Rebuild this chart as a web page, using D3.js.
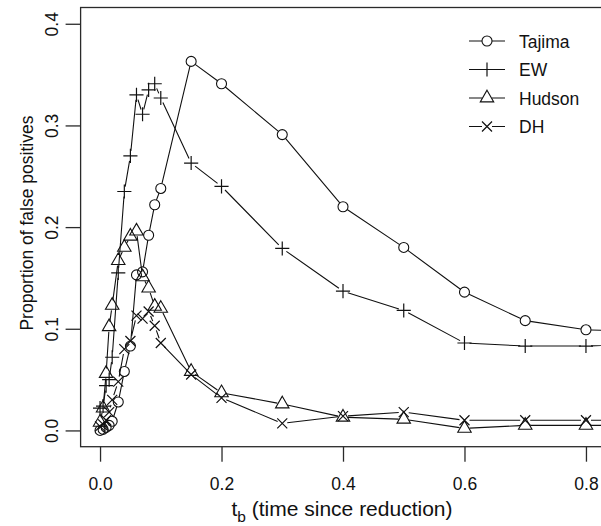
<!DOCTYPE html>
<html>
<head>
<meta charset="utf-8">
<script src="https://cdn.jsdelivr.net/npm/d3@7/dist/d3.min.js"></script>
<style>
  body { margin: 0; background: #fff; }
  text { font-family: "Liberation Sans", Arial, Helvetica, sans-serif; fill: #111; }
</style>
</head>
<body>
<svg id="chart" width="601" height="526"></svg>
<script>
// Time since reduction (t_b) at which each test was evaluated
const tb = [0, 0.005, 0.01, 0.015, 0.02, 0.03, 0.04, 0.05, 0.06, 0.07, 0.08, 0.09, 0.1,
            0.15, 0.2, 0.3, 0.4, 0.5, 0.6, 0.7, 0.8, 0.9];

// Proportion of false positives per test
const tajima = [0.000, 0.001, 0.003, 0.005, 0.009, 0.028, 0.058, 0.083, 0.153, 0.156, 0.192, 0.222, 0.238,
                0.363, 0.341, 0.291, 0.220, 0.180, 0.136, 0.108, 0.099, 0.097];
const ew     = [0.022, 0.024, 0.044, 0.050, 0.072, 0.155, 0.235, 0.270, 0.330, 0.311, 0.335, 0.341, 0.327,
                0.263, 0.240, 0.179, 0.137, 0.118, 0.086, 0.083, 0.083, 0.085];
const hudson = [0.008, 0.022, 0.056, 0.102, 0.123, 0.167, 0.180, 0.191, 0.196, 0.151, 0.140, 0.122, 0.120,
                0.058, 0.037, 0.026, 0.013, 0.011, 0.002, 0.005, 0.005, 0.005];
const dh     = [0.004, 0.006, 0.010, 0.018, 0.030, 0.048, 0.080, 0.088, 0.113, 0.110, 0.117, 0.103, 0.086,
                0.055, 0.032, 0.007, 0.014, 0.018, 0.010, 0.010, 0.010, 0.010];

const seriesNames = ["Tajima", "EW", "Hudson", "DH"];
const seriesShapes = ["circle", "plus", "triangle", "cross"];
const xTicks = [0, 0.2, 0.4, 0.6, 0.8];
const yTicks = [0, 0.1, 0.2, 0.3, 0.4];
const xLimits = [0, 0.8];
const yLimits = [0, 0.4];

const series = seriesNames.map((name, i) => ({
  name,
  shape: seriesShapes[i],
  values: [tajima, ew, hudson, dh][i].map((v, j) => ({ t: tb[j], p: v }))
}));

const svg = d3.select("#chart");
const ink = "#111";
const plot = { left: 80.6, right: 605.4, top: 7.5, bottom: 446.7 };

// Axis limits padded by 4% on each side
const pad = ([a, b]) => [a - 0.04 * (b - a), b + 0.04 * (b - a)];
const x = d3.scaleLinear().domain(pad(xLimits)).range([plot.left, plot.right]);
const y = d3.scaleLinear().domain(pad(yLimits)).range([plot.bottom, plot.top]);

svg.append("defs").append("clipPath").attr("id", "plotclip")
  .append("rect")
  .attr("x", plot.left).attr("y", plot.top)
  .attr("width", plot.right - plot.left).attr("height", plot.bottom - plot.top);

// Marker glyphs (R = circle radius), all hollow
const R = 5;
function marker(g, shape) {
  if (shape === "circle") {
    g.append("circle").attr("r", R).attr("fill", "none").attr("stroke", ink).attr("stroke-width", 1.1);
  } else if (shape === "plus") {
    const h = R * Math.SQRT2;
    g.append("path").attr("d", `M${-h},0H${h}M0,${-h}V${h}`).attr("stroke", ink).attr("stroke-width", 1.2);
  } else if (shape === "triangle") {
    const r0 = 1.5551 * R, xc = 1.3468 * R, yc = 0.7776 * R;
    g.append("path").attr("d", `M0,${-r0}L${xc},${yc}L${-xc},${yc}Z`)
      .attr("fill", "none").attr("stroke", ink).attr("stroke-width", 1.1);
  } else {
    const h = R;
    g.append("path").attr("d", `M${-h},${-h}L${h},${h}M${-h},${h}L${h},${-h}`)
      .attr("stroke", ink).attr("stroke-width", 1.2);
  }
}

// Connecting segments stop short of each point, leaving a gap around the marker
const GAP = R;
function gappedPath(pts) {
  let d = "";
  for (let i = 0; i < pts.length - 1; i++) {
    const [x0, y0] = pts[i], [x1, y1] = pts[i + 1];
    const len = Math.hypot(x1 - x0, y1 - y0);
    if (len <= 2 * GAP) continue;
    const ux = (x1 - x0) / len, uy = (y1 - y0) / len;
    d += `M${x0 + ux * GAP},${y0 + uy * GAP}L${x1 - ux * GAP},${y1 - uy * GAP}`;
  }
  return d;
}

const dataLayer = svg.append("g").attr("clip-path", "url(#plotclip)");
series.forEach(s => {
  const pts = s.values.map(d => [x(d.t), y(d.p)]);
  dataLayer.append("path")
    .attr("d", gappedPath(pts)).attr("fill", "none").attr("stroke", ink).attr("stroke-width", 1.1);
});
series.forEach(s => {
  dataLayer.selectAll(null).data(s.values).enter().append("g")
    .attr("transform", d => `translate(${x(d.t)},${y(d.p)})`)
    .each(function () { marker(d3.select(this), s.shape); });
});

// Plot frame
svg.append("rect")
  .attr("x", plot.left).attr("y", plot.top)
  .attr("width", plot.right - plot.left).attr("height", plot.bottom - plot.top)
  .attr("fill", "none").attr("stroke", "#2a2a2a").attr("stroke-width", 1.3);

const fmt = d3.format(".1f");

// x axis
const gx = svg.append("g").attr("transform", `translate(0,${plot.bottom})`)
  .call(d3.axisBottom(x).tickValues(xTicks).tickFormat(fmt).tickSize(15).tickPadding(16));
gx.select(".domain").remove();
gx.selectAll(".tick line").attr("stroke", "#2a2a2a").attr("stroke-width", 1.3);
gx.selectAll(".tick text").attr("font-size", 17.5).attr("fill", ink);

// y axis, labels parallel to the axis
const gy = svg.append("g").attr("transform", `translate(${plot.left},0)`)
  .call(d3.axisLeft(y).tickValues(yTicks).tickFormat(fmt).tickSize(15));
gy.select(".domain").remove();
gy.selectAll(".tick line").attr("stroke", "#2a2a2a").attr("stroke-width", 1.3);
gy.selectAll(".tick text")
  .attr("font-size", 17.5).attr("fill", ink)
  .attr("transform", "rotate(-90)")
  .attr("x", 0).attr("y", -23).attr("dy", 0)
  .attr("text-anchor", "middle");

// Axis titles
const xt = svg.append("text")
  .attr("x", (plot.left + plot.right) / 2 - 1).attr("y", 516)
  .attr("text-anchor", "middle").attr("font-size", 21);
xt.append("tspan").text("t");
xt.append("tspan").attr("dy", 6).attr("font-size", 15.5).text("b");
xt.append("tspan").attr("dy", -6).text(" (time since reduction)");

svg.append("text")
  .attr("transform", `translate(33,${(plot.top + plot.bottom) / 2 - 4}) rotate(-90)`)
  .attr("text-anchor", "middle").attr("font-size", 17.5)
  .text("Proportion of false positives");

// Legend
const legend = svg.append("g");
series.forEach((s, i) => {
  const ly = 41 + i * 28.5;
  const g = legend.append("g").attr("transform", `translate(0,${ly})`);
  g.append("path").attr("d", `M469,0H${487 - GAP}M${487 + GAP},0H505`)
    .attr("stroke", ink).attr("stroke-width", 1.1);
  const m = g.append("g").attr("transform", "translate(487,0)");
  marker(m, s.shape);
  g.append("text").attr("x", 519).attr("y", 6.5).attr("font-size", 17.5).text(s.name);
});
</script>
</body>
</html>
